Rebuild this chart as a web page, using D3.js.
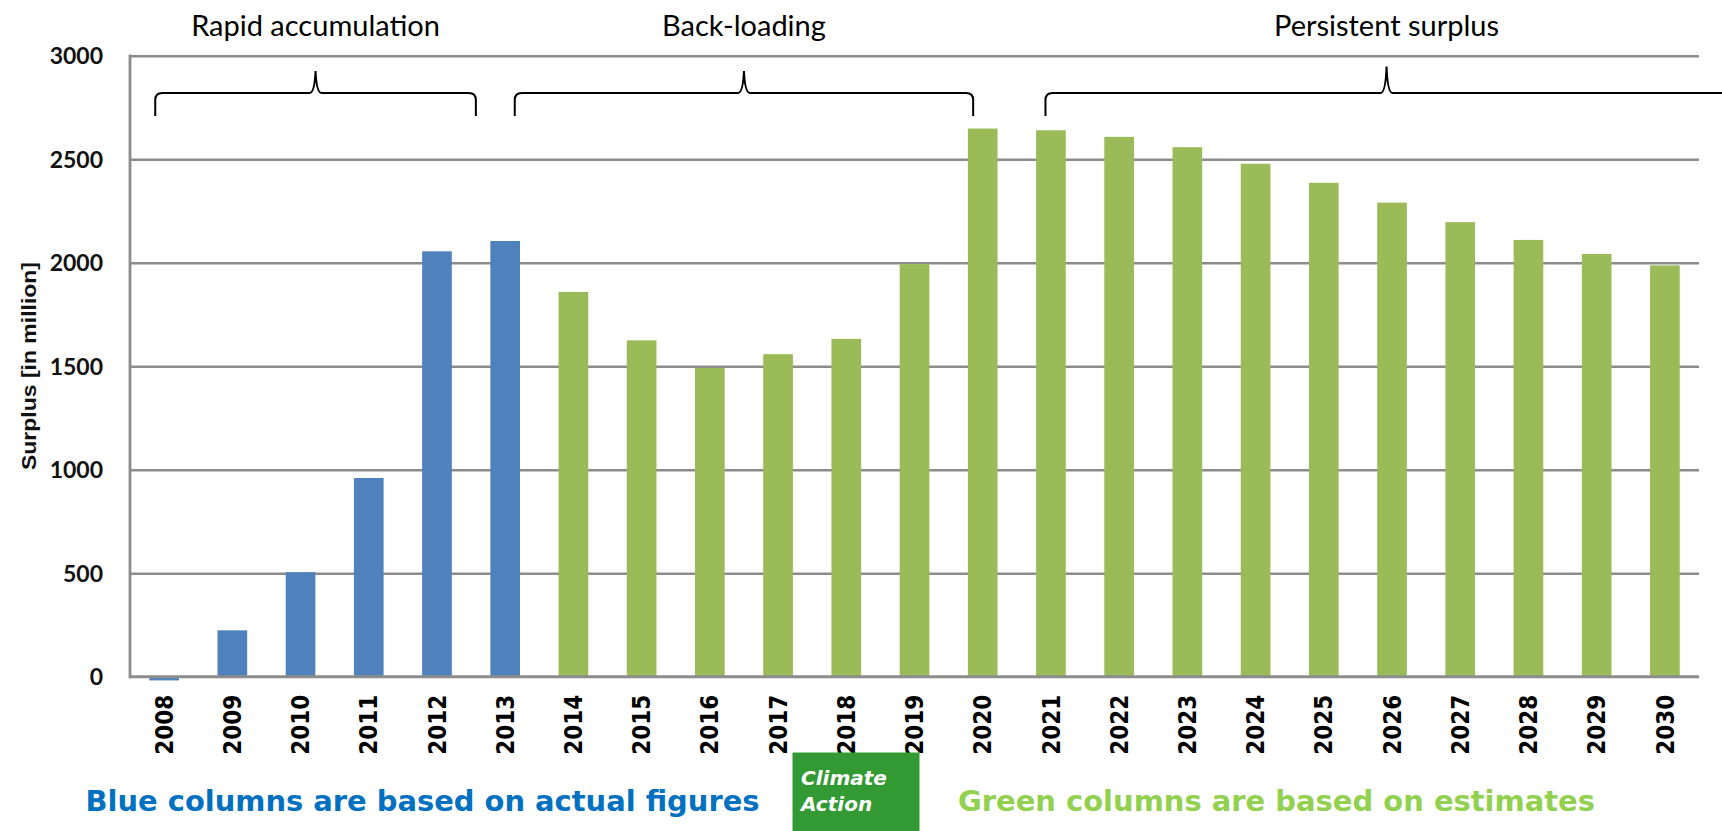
<!DOCTYPE html>
<html>
<head>
<meta charset="utf-8">
<script src="https://cdn.jsdelivr.net/npm/d3@7"></script>
<style>
  html, body { margin: 0; padding: 0; background: #ffffff; }
  svg { display: block; }
</style>
</head>
<body>
<svg id="chart" width="1722" height="831"></svg>
<script>
// EU ETS surplus of allowances, in million
const years = ["2008","2009","2010","2011","2012","2013","2014","2015","2016","2017","2018","2019",
               "2020","2021","2022","2023","2024","2025","2026","2027","2028","2029","2030"];
const surplus = [-18, 224, 505, 960, 2055, 2105, 1859, 1625, 1492, 1558, 1632, 1993,
                 2648, 2640, 2608, 2558, 2478, 2386, 2290, 2196, 2110, 2042, 1987];
// "actual" for reported years, "estimate" for projections
const basis = ["actual","actual","actual","actual","actual","actual",
               "estimate","estimate","estimate","estimate","estimate","estimate","estimate",
               "estimate","estimate","estimate","estimate","estimate","estimate","estimate",
               "estimate","estimate","estimate"];
const yTicks = [0, 500, 1000, 1500, 2000, 2500, 3000];

// Phases marked with braces above the columns (positions in year units)
const phaseLabels = ["Rapid accumulation", "Back-loading", "Persistent surplus"];
const phaseStart = [2007.87, 2013.14, 2020.92];
const phaseEnd   = [2012.57, 2019.86, 2030.92];

const yTitle = "Surplus [in million]";
const noteActual = "Blue columns are based on actual figures";
const noteEstimate = "Green columns are based on estimates";
const badgeLines = ["Climate", "Action"];

const W = 1722, H = 831;
const margin = { top: 55.7, right: 23, bottom: 154.3, left: 130 };
const colors = { actual: "#4f81bd", estimate: "#9bbb59" };

const svg = d3.select("#chart");

const x = d3.scaleBand()
  .domain(years)
  .range([margin.left, W - margin.right])
  .paddingInner(0.565)
  .paddingOuter(0.2825);

const y = d3.scaleLinear()
  .domain([0, 3000])
  .range([H - margin.bottom, margin.top]);

// position along the category axis for a (fractional) year
const step = x.step();
const xYear = v => x(years[0]) + x.bandwidth() / 2 + (v - +years[0]) * step;

// horizontal gridlines
const grid = d3.axisLeft(y)
  .tickValues(yTicks.filter(t => t > 0))
  .tickSize(-(W - margin.left - margin.right))
  .tickFormat("");
svg.append("g")
  .attr("transform", `translate(${margin.left},0)`)
  .call(grid)
  .call(g => g.select(".domain").remove())
  .call(g => g.selectAll("line").attr("stroke", "#8c8c8c").attr("stroke-width", 2.6));

// y axis labels
const yAxis = d3.axisLeft(y).tickValues(yTicks).tickFormat(d3.format("d")).tickSize(0).tickPadding(27);
svg.append("g")
  .attr("transform", `translate(${margin.left},0)`)
  .call(yAxis)
  .call(g => g.select(".domain").remove())
  .call(g => g.selectAll("text")
    .attr("font-family", "Lato, 'Open Sans', sans-serif")
    .attr("font-weight", "bold")
    .attr("font-size", 23)
    .attr("fill", "#111")
    .attr("dy", "0.34em"));

// columns
svg.append("g")
  .selectAll("rect")
  .data(years)
  .join("rect")
  .attr("x", d => x(d))
  .attr("width", x.bandwidth())
  .attr("y", (d, i) => y(Math.max(0, surplus[i])))
  .attr("height", (d, i) => Math.abs(y(surplus[i]) - y(0)))
  .attr("fill", (d, i) => colors[basis[i]]);

// axis lines
svg.append("line")
  .attr("x1", margin.left).attr("x2", margin.left)
  .attr("y1", y(3000) - 1.3).attr("y2", y(0) + 1.5)
  .attr("stroke", "#8c8c8c").attr("stroke-width", 2.8);
svg.append("line")
  .attr("x1", margin.left).attr("x2", W - margin.right)
  .attr("y1", y(0)).attr("y2", y(0))
  .attr("stroke", "#8c8c8c").attr("stroke-width", 3);

// x axis labels, rotated
const xAxis = d3.axisBottom(x).tickSize(0).tickPadding(0);
svg.append("g")
  .attr("transform", `translate(0,${y(0)})`)
  .call(xAxis)
  .call(g => g.select(".domain").remove())
  .call(g => g.selectAll("text")
    .attr("font-family", "'DejaVu Sans Condensed', 'DejaVu Sans', sans-serif")
    .attr("font-stretch", "condensed")
    .attr("font-weight", "bold")
    .attr("font-size", 24)
    .attr("fill", "#000")
    .attr("text-anchor", "end")
    .attr("transform", "rotate(-90)")
    .attr("x", -18)
    .attr("y", 0)
    .attr("dy", "0.36em"));

// y axis title
svg.append("text")
  .attr("transform", `translate(36,366) rotate(-90)`)
  .attr("text-anchor", "middle")
  .attr("font-family", "'Liberation Sans', Arial, sans-serif")
  .attr("font-weight", "bold")
  .attr("font-size", 20)
  .attr("textLength", 208)
  .attr("lengthAdjust", "spacingAndGlyphs")
  .attr("fill", "#111")
  .text(yTitle);

// braces for phases
function bracePath(x0, x1, yLine, yEnd, yTip) {
  const xm = (x0 + x1) / 2;
  const r = 7;
  return `M${x0},${yEnd} L${x0},${yLine + r} Q${x0},${yLine} ${x0 + r},${yLine}` +
         ` L${xm - 6},${yLine} Q${xm - 1},${yLine} ${xm},${yTip}` +
         ` Q${xm + 1},${yLine} ${xm + 6},${yLine}` +
         ` L${x1 - r},${yLine} Q${x1},${yLine} ${x1},${yLine + r} L${x1},${yEnd}`;
}
const tipY = [71, 71, 66.5];
const braces = svg.append("g");
phaseLabels.forEach((label, i) => {
  const x0 = xYear(phaseStart[i]), x1 = xYear(phaseEnd[i]);
  braces.append("path")
    .attr("d", bracePath(x0, x1, 93, 116, tipY[i]))
    .attr("fill", "none")
    .attr("stroke", "#000")
    .attr("stroke-width", 2);
  braces.append("text")
    .attr("x", (x0 + x1) / 2)
    .attr("y", 36)
    .attr("text-anchor", "middle")
    .attr("font-family", "Lato, 'Open Sans', sans-serif")
    .attr("font-size", 29)
    .attr("fill", "#000")
    .text(label);
});

// notes under the axis
svg.append("text")
  .attr("x", 85.5).attr("y", 811)
  .attr("font-family", "'DejaVu Sans', Verdana, sans-serif")
  .attr("font-weight", "bold")
  .attr("font-size", 29)
  .attr("textLength", 674)
  .attr("lengthAdjust", "spacingAndGlyphs")
  .attr("fill", "#0070c0")
  .text(noteActual);

svg.append("text")
  .attr("x", 958).attr("y", 811)
  .attr("font-family", "'DejaVu Sans', Verdana, sans-serif")
  .attr("font-weight", "bold")
  .attr("font-size", 29)
  .attr("textLength", 637)
  .attr("lengthAdjust", "spacingAndGlyphs")
  .attr("fill", "#92d050")
  .text(noteEstimate);

// badge
const badge = svg.append("g").attr("transform", "translate(792.5,752.5)");
badge.append("rect")
  .attr("width", 127).attr("height", 80)
  .attr("fill", "#339933");
badge.selectAll("text")
  .data(badgeLines)
  .join("text")
  .attr("x", 8.5)
  .attr("y", (d, i) => 32.5 + i * 26)
  .attr("font-family", "'DejaVu Sans', Verdana, sans-serif")
  .attr("font-weight", "bold")
  .attr("font-style", "italic")
  .attr("font-size", 20)
  .attr("fill", "#ffffff")
  .text(d => d);
</script>
</body>
</html>
